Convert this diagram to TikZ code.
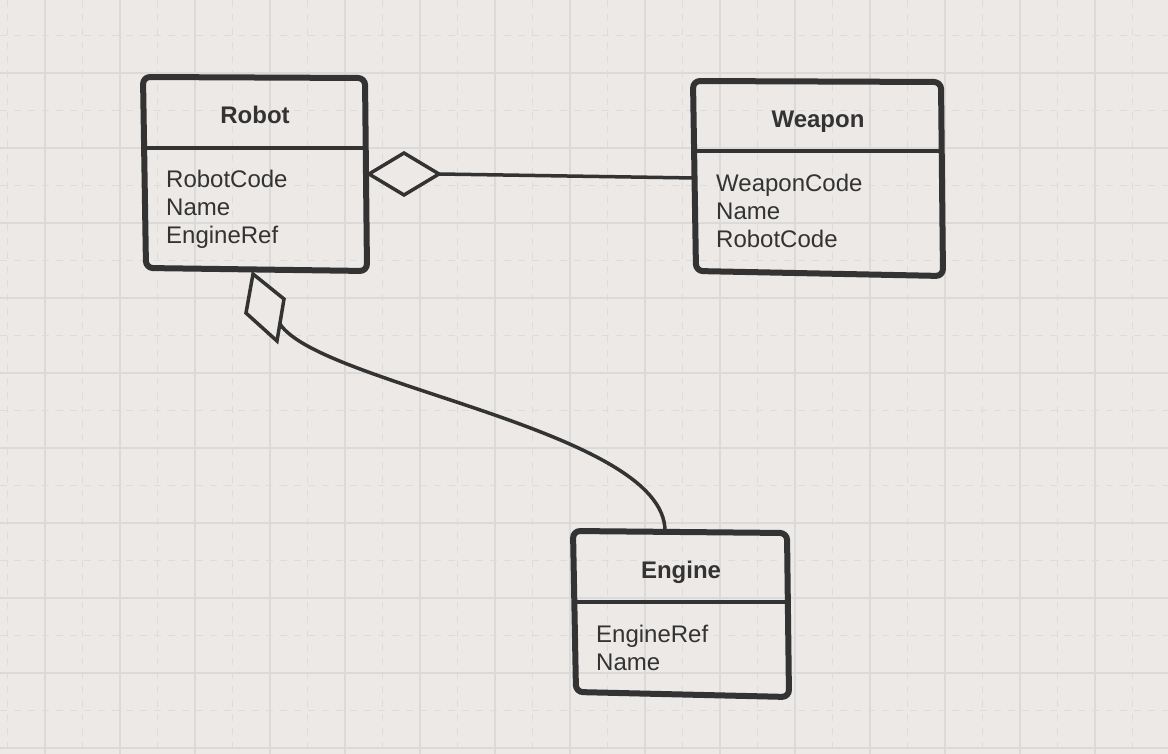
\documentclass[tikz,border=0pt]{standalone}
\usepackage{fontspec}
\setmainfont{Liberation Sans}
\definecolor{bg}{HTML}{ECE9E6}
\definecolor{gridc}{HTML}{DADADA}
\definecolor{gridd}{HTML}{DCDCDC}
\definecolor{ink}{HTML}{333333}
\tikzset{
  boxline/.style={line width=6pt, draw=ink, rounded corners=7pt, line join=round},
  sepline/.style={line width=3.5pt, draw=ink},
  conn/.style={line width=3.5pt, draw=ink},
  diam/.style={line width=3.5pt, draw=ink, fill=bg, line join=miter},
  ttl/.style={inner sep=0pt, anchor=base, text=ink, font=\bfseries\fontsize{24}{28}\selectfont},
  attr/.style={inner sep=0pt, anchor=base west, text=ink, font=\fontsize{24}{28}\selectfont},
}
\begin{document}
\begin{tikzpicture}[x=1pt,y=-1pt]
\fill[bg] (0,0) rectangle (1168,754);
\useasboundingbox (0,0) rectangle (1168,754);
% grid
\foreach \i in {0,...,15} {
  \draw[gridc, line width=1.1pt] ({45+75*\i},0) -- ({45+75*\i},754);
  \draw[gridd, line width=1.1pt, dash pattern=on 7pt off 7pt] ({7.5+75*\i},0) -- ({7.5+75*\i},754);
}
\foreach \j in {0,...,10} {
  \draw[gridc, line width=1.1pt] (0,{73+75*\j}) -- (1168,{73+75*\j});
  \draw[gridd, line width=1.1pt, dash pattern=on 7pt off 7pt] (0,{35.5+75*\j}) -- (1168,{35.5+75*\j});
}
% Robot box
\coordinate (rtl) at (143,77);
\coordinate (rtr) at (365,78);
\coordinate (rbr) at (367,271);
\coordinate (rbl) at (146,268);
\draw[boxline] (rtl) -- (rtr) -- (rbr) -- (rbl) -- cycle;
\draw[sepline] (146,148) -- (365,148);
\node[ttl] (robot) at (255,124) {Robot};
\node[attr] (r1) at (166,188) {RobotCode};
\node[attr] (r2) at (166,216) {Name};
\node[attr] (r3) at (166,244) {EngineRef};
% Weapon box
\coordinate (wtl) at (693,81);
\coordinate (wtr) at (941,82);
\coordinate (wbr) at (943,276);
\coordinate (wbl) at (696,271);
\draw[boxline] (wtl) -- (wtr) -- (wbr) -- (wbl) -- cycle;
\draw[sepline] (695,151) -- (941,151);
\node[ttl] (weapon) at (818,128) {Weapon};
\node[attr] (w1) at (716,192) {WeaponCode};
\node[attr] (w2) at (716,220) {Name};
\node[attr] (w3) at (716,248) {RobotCode};
% Engine box
\coordinate (etl) at (573,531);
\coordinate (etr) at (787,533);
\coordinate (ebr) at (789,697);
\coordinate (ebl) at (576,692);
\draw[boxline] (etl) -- (etr) -- (ebr) -- (ebl) -- cycle;
\draw[sepline] (575,602) -- (787,602);
\node[ttl] (engine) at (681,578) {Engine};
\node[attr] (e1) at (596,642) {EngineRef};
\node[attr] (e2) at (596,670) {Name};
% Robot - Weapon aggregation
\coordinate (d1a) at (369,174);
\coordinate (d1b) at (404,153);
\coordinate (d1c) at (439,174);
\coordinate (d1d) at (404,195);
\coordinate (wleft) at (695,178);
\draw[conn] (d1c) -- (wleft);
\draw[diam] (d1a) -- (d1b) -- (d1c) -- (d1d) -- cycle;
% Robot - Engine aggregation
\coordinate (d2a) at (253,274);
\coordinate (d2b) at (284,299);
\coordinate (d2c) at (277,341);
\coordinate (d2d) at (246,313);
\coordinate (d2s) at (280,324);
\coordinate (etop) at (665,531);
\draw[conn] (d2s) .. controls (320,385) and (665,430) .. (etop);
\draw[diam] (d2a) -- (d2b) -- (d2c) -- (d2d) -- cycle;
\end{tikzpicture}
\end{document}
